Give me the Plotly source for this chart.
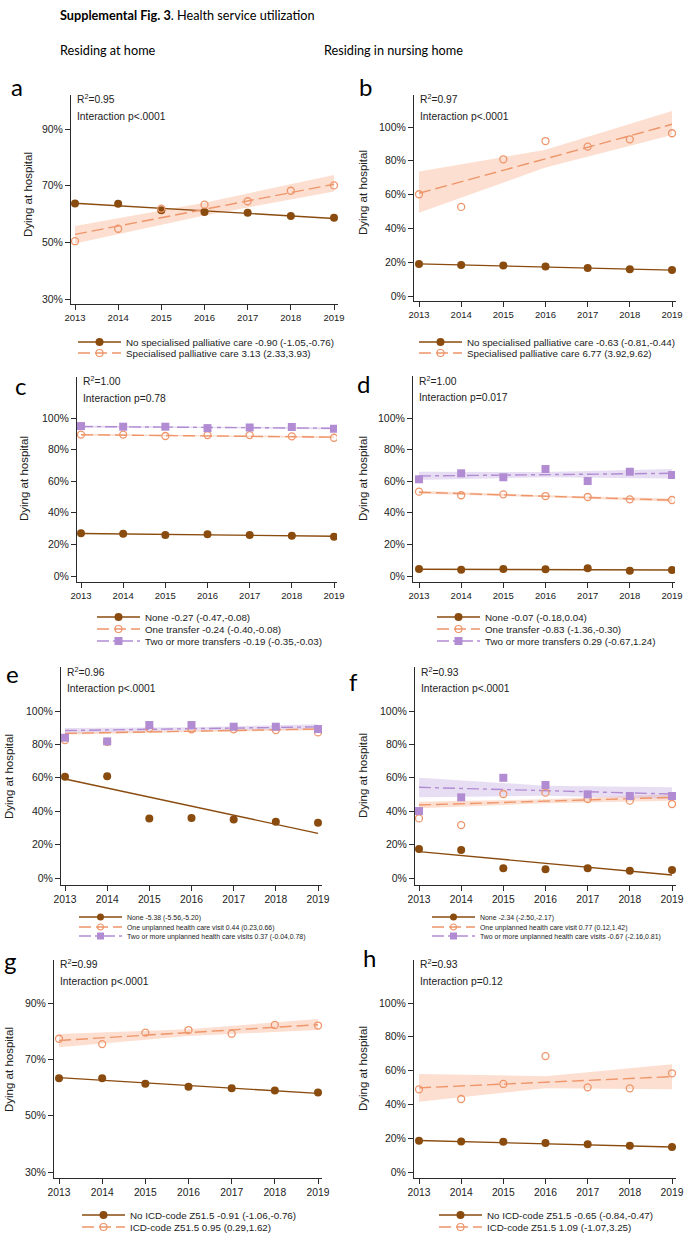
import plotly.graph_objects as go

W, H = 687, 1236
SANS = "Liberation Sans, Arial, sans-serif"
HEAD = "Lato, Open Sans, sans-serif"

years = [2013, 2014, 2015, 2016, 2017, 2018, 2019]
fit_years = [2013, 2019]
ci_years = [2013, 2016, 2019]

# ---- panel a: residing at home, specialised palliative care
a_none = [63.7, 63.6, 61.3, 60.7, 60.4, 59.3, 58.7]
a_none_fit = [63.8, 58.4]
a_spc = [50.4, 54.8, 61.9, 63.3, 64.5, 68.2, 70.1]
a_spc_fit = [52.8, 70.5]
a_spc_lo = [49.6, 59.5, 67.9]
a_spc_hi = [55.8, 64.0, 73.8]
a_labels = ["No specialised palliative care -0.90 (-1.05,-0.76)",
            "Specialised palliative care 3.13 (2.33,3.93)"]

# ---- panel b: nursing home, specialised palliative care
b_none = [18.9, 18.3, 18.1, 17.4, 16.6, 15.8, 15.4]
b_none_fit = [19.0, 15.3]
b_spc = [60.2, 52.7, 80.9, 91.7, 88.4, 92.7, 96.3]
b_spc_fit = [60.8, 101.6]
b_spc_lo = [49.3, 76.0, 95.3]
b_spc_hi = [73.6, 86.5, 109.5]
b_labels = ["No specialised palliative care -0.63 (-0.81,-0.44)",
            "Specialised palliative care 6.77 (3.92,9.62)"]

# ---- panel c: home, transfers
c_none = [27.0, 26.8, 26.0, 26.4, 26.0, 25.5, 24.9]
c_none_fit = [26.9, 25.2]
c_one = [89.5, 89.5, 88.6, 89.2, 89.2, 88.4, 87.5]
c_one_fit = [89.4, 87.9]
c_one_lo = [88.7, 88.3, 87.2]
c_one_hi = [90.1, 89.1, 88.6]
c_two = [94.9, 94.5, 94.5, 93.6, 94.0, 94.3, 93.2]
c_two_fit = [94.6, 93.5]
c_two_lo = [93.9, 93.6, 92.8]
c_two_hi = [95.3, 94.5, 94.2]
c_labels = ["None -0.27 (-0.47,-0.08)",
            "One transfer -0.24 (-0.40,-0.08)",
            "Two or more transfers -0.19 (-0.35,-0.03)"]

# ---- panel d: nursing home, transfers
d_none = [4.4, 4.0, 4.4, 4.2, 4.9, 3.4, 3.8]
d_none_fit = [4.3, 3.8]
d_one = [53.4, 51.1, 51.7, 50.6, 50.0, 48.5, 48.1]
d_one_fit = [53.0, 48.0]
d_one_lo = [52.0, 49.9, 47.0]
d_one_hi = [54.0, 51.1, 49.0]
d_two = [61.2, 65.0, 62.5, 67.7, 60.1, 66.0, 63.9]
d_two_fit = [63.3, 65.0]
d_two_lo = [60.8, 62.5, 61.7]
d_two_hi = [66.0, 65.8, 67.8]
d_labels = ["None -0.07 (-0.18,0.04)",
            "One transfer -0.83 (-1.36,-0.30)",
            "Two or more transfers 0.29 (-0.67,1.24)"]

# ---- panel e: home, unplanned health care visits
e_none = [60.6, 61.0, 35.7, 35.9, 35.1, 33.7, 33.1]
e_none_fit = [59.3, 26.7]
e_one = [82.6, 81.5, 89.6, 89.0, 89.0, 88.6, 87.2]
e_one_fit = [86.6, 89.2]
e_one_lo = [85.8, 87.4, 88.4]
e_one_hi = [87.4, 88.4, 90.0]
e_two = [84.0, 81.8, 91.6, 91.6, 90.6, 90.6, 89.2]
e_two_fit = [88.3, 90.5]
e_two_lo = [86.8, 88.5, 89.0]
e_two_hi = [89.8, 90.3, 92.0]
e_labels = ["None -5.38 (-5.56,-5.20)",
            "One unplanned health care visit 0.44 (0.23,0.66)",
            "Two or more unplanned health care visits 0.37 (-0.04,0.78)"]

# ---- panel f: nursing home, unplanned health care visits
f_none = [17.4, 16.8, 5.8, 5.2, 5.8, 4.4, 4.8]
f_none_fit = [15.8, 1.8]
f_one = [35.7, 31.7, 50.3, 51.1, 47.3, 46.3, 44.3]
f_one_fit = [43.7, 48.3]
f_one_lo = [41.7, 44.8, 46.3]
f_one_hi = [45.7, 47.2, 50.3]
f_two = [40.1, 48.3, 60.0, 55.7, 50.1, 49.1, 49.1]
f_two_fit = [54.3, 50.3]
f_two_lo = [48.3, 49.3, 47.3]
f_two_hi = [60.0, 55.3, 54.3]
f_labels = ["None -2.34 (-2.50,-2.17)",
            "One unplanned health care visit 0.77 (0.12,1.42)",
            "Two or more unplanned health care visits -0.67 (-2.16,0.81)"]

# ---- panel g: home, ICD-code Z51.5
g_none = [63.3, 63.3, 61.3, 60.3, 59.7, 58.9, 58.2]
g_none_fit = [63.5, 57.9]
g_icd = [77.3, 75.4, 79.5, 80.4, 79.1, 82.2, 82.0]
g_icd_fit = [76.7, 82.3]
g_icd_lo = [74.3, 78.3, 80.4]
g_icd_hi = [79.0, 80.7, 84.3]
g_labels = ["No ICD-code Z51.5 -0.91 (-1.06,-0.76)",
            "ICD-code Z51.5 0.95 (0.29,1.62)"]

# ---- panel h: nursing home, ICD-code Z51.5
h_none = [18.5, 18.1, 17.9, 17.1, 16.4, 15.6, 14.8]
h_none_fit = [18.6, 14.8]
h_icd = [48.9, 43.2, 52.1, 68.6, 50.1, 49.5, 58.4]
h_icd_fit = [49.8, 56.4]
h_icd_lo = [41.6, 49.5, 48.9]
h_icd_hi = [58.0, 56.7, 63.7]
h_labels = ["No ICD-code Z51.5 -0.65 (-0.84,-0.47)",
            "ICD-code Z51.5 1.09 (-1.07,3.25)"]

r2_values = ["0.95", "0.97", "1.00", "1.00", "0.96", "0.93", "0.99", "0.93"]
p_values = ["p<.0001", "p<.0001", "p=0.78", "p=0.017", "p<.0001", "p<.0001", "p<.0001", "p=0.12"]

# ---------------- styles ----------------
BROWN = "#8A4B0E"
ORANGE = "#EE956A"
PURPLE = "#B28CD3"
STY = {
    "none": dict(color=BROWN, dash="solid", symbol="circle", size=8),
    "one": dict(color=ORANGE, dash="12px,5px", symbol="circle-open", size=7,
                band="rgba(249,196,170,0.55)"),
    "two": dict(color=PURPLE, dash="12px,4px,4px,4px", symbol="square", size=8,
                band="rgba(205,182,228,0.45)"),
}


def S(kind, pts, fit, label, lo=None, hi=None):
    return dict(kind=kind, pts=pts, fit=fit, label=label, lo=lo, hi=hi)


panels = [
    dict(letter="a", box=(71, 338, 95, 304), x13=75, x19=334, yref=((30, 299), (90, 129)),
         yticks=[30, 50, 70, 90], xfont=9.5, ytitle=(28, 195), lpos=(17, 86),
         leg=(78, [342, 353], 9.8),
         series=[S("none", a_none, a_none_fit, a_labels[0]),
                 S("one", a_spc, a_spc_fit, a_labels[1], a_spc_lo, a_spc_hi)]),
    dict(letter="b", box=(414, 676, 95, 301), x13=419, x19=672, yref=((0, 296), (100, 127)),
         yticks=[0, 20, 40, 60, 80, 100], xfont=9.5, ytitle=(363, 193), lpos=(365, 86),
         leg=(419, [342, 353], 9.8),
         series=[S("none", b_none, b_none_fit, b_labels[0]),
                 S("one", b_spc, b_spc_fit, b_labels[1], b_spc_lo, b_spc_hi)]),
    dict(letter="c", box=(77, 337, 377, 582), x13=81, x19=334, yref=((0, 576), (100, 418)),
         yticks=[0, 20, 40, 60, 80, 100], xfont=9.5, ytitle=(24, 479), lpos=(20, 385),
         leg=(97, [617, 629, 641], 9.8),
         series=[S("none", c_none, c_none_fit, c_labels[0]),
                 S("one", c_one, c_one_fit, c_labels[1], c_one_lo, c_one_hi),
                 S("two", c_two, c_two_fit, c_labels[2], c_two_lo, c_two_hi)]),
    dict(letter="d", box=(413, 675, 376, 582), x13=419, x19=672, yref=((0, 576), (100, 418)),
         yticks=[0, 20, 40, 60, 80, 100], xfont=9.5, ytitle=(363, 479), lpos=(363, 383),
         leg=(437, [617, 629, 641], 9.8),
         series=[S("none", d_none, d_none_fit, d_labels[0]),
                 S("one", d_one, d_one_fit, d_labels[1], d_one_lo, d_one_hi),
                 S("two", d_two, d_two_fit, d_labels[2], d_two_lo, d_two_hi)]),
    dict(letter="e", box=(61, 322, 667, 885), x13=65, x19=318, yref=((0, 878), (100, 711)),
         yticks=[0, 20, 40, 60, 80, 100], xfont=10.3, ytitle=(9, 777), lpos=(12, 673),
         leg=(79, [917, 927, 936], 6.9),
         series=[S("none", e_none, e_none_fit, e_labels[0]),
                 S("one", e_one, e_one_fit, e_labels[1], e_one_lo, e_one_hi),
                 S("two", e_two, e_two_fit, e_labels[2], e_two_lo, e_two_hi)]),
    dict(letter="f", box=(415, 676, 667, 885), x13=419, x19=672, yref=((0, 878), (100, 711)),
         yticks=[0, 20, 40, 60, 80, 100], xfont=10.3, ytitle=(363, 776), lpos=(353, 681),
         leg=(432, [917, 927, 936], 6.9),
         series=[S("none", f_none, f_none_fit, f_labels[0]),
                 S("one", f_one, f_one_fit, f_labels[1], f_one_lo, f_one_hi),
                 S("two", f_two, f_two_fit, f_labels[2], f_two_lo, f_two_hi)]),
    dict(letter="g", box=(54, 322, 960, 1178), x13=59, x19=318, yref=((30, 1172), (90, 1003)),
         yticks=[30, 50, 70, 90], xfont=10.3, ytitle=(9, 1070), lpos=(10, 961),
         leg=(82, [1215, 1227], 9.8),
         series=[S("none", g_none, g_none_fit, g_labels[0]),
                 S("one", g_icd, g_icd_fit, g_labels[1], g_icd_lo, g_icd_hi)]),
    dict(letter="h", box=(414, 676, 960, 1178), x13=419, x19=672, yref=((0, 1172), (100, 1003)),
         yticks=[0, 20, 40, 60, 80, 100], xfont=10.3, ytitle=(363, 1069), lpos=(369, 958),
         leg=(439, [1215, 1227], 9.8),
         series=[S("none", h_none, h_none_fit, h_labels[0]),
                 S("one", h_icd, h_icd_fit, h_labels[1], h_icd_lo, h_icd_hi)]),
]


def px(x):
    return x / W


def py(y):
    return 1 - y / H


fig = go.Figure()
annotations = []
layout = {}
legend_count = 0

for i, p in enumerate(panels):
    n = "" if i == 0 else str(i + 1)
    xa, ya = "x" + n, "y" + n
    left, right, top, bottom = p["box"]
    k = 6.0 / (p["x19"] - p["x13"])
    xr = [2013 - (p["x13"] - left) * k, 2019 + (right - p["x19"]) * k]
    (v1, p1), (v2, p2) = p["yref"]
    ky = (v2 - v1) / (p1 - p2)
    yr = [v1 - (bottom - p1) * ky, v1 + (p1 - top) * ky]

    axis_common = dict(showline=True, linecolor="#2b2b2b", linewidth=1, ticks="outside",
                       ticklen=5, tickcolor="#2b2b2b", showgrid=False, zeroline=False,
                       fixedrange=True, automargin=False)
    layout["xaxis" + n] = dict(axis_common, domain=[px(left), px(right)], range=xr,
                               anchor=ya, tickmode="array", tickvals=years,
                               ticktext=[str(y) for y in years],
                               tickfont=dict(family=SANS, size=p["xfont"], color="#222"))
    layout["yaxis" + n] = dict(axis_common, domain=[py(bottom), py(top)], range=yr,
                               anchor=xa, tickmode="array", tickvals=p["yticks"],
                               ticktext=["%d%%" % v for v in p["yticks"]],
                               tickfont=dict(family=SANS, size=10.5, color="#222"))

    # confidence bands
    for s in p["series"]:
        st = STY[s["kind"]]
        if s["lo"] is not None:
            fig.add_trace(go.Scatter(x=ci_years + ci_years[::-1], y=s["hi"] + s["lo"][::-1],
                                     fill="toself", fillcolor=st["band"], mode="lines",
                                     line=dict(width=0), hoverinfo="skip", showlegend=False,
                                     xaxis=xa, yaxis=ya))
    # fitted lines
    for s in p["series"]:
        st = STY[s["kind"]]
        fig.add_trace(go.Scatter(x=fit_years, y=s["fit"], mode="lines",
                                 line=dict(color=st["color"], width=1.4, dash=st["dash"]),
                                 showlegend=False, xaxis=xa, yaxis=ya))
    # observed points
    for s in p["series"]:
        st = STY[s["kind"]]
        mk = dict(color=st["color"], size=st["size"], symbol=st["symbol"])
        if s["kind"] == "one":
            mk["line"] = dict(color=st["color"], width=1.3)
        fig.add_trace(go.Scatter(x=years, y=s["pts"], mode="markers", marker=mk,
                                 showlegend=False, xaxis=xa, yaxis=ya))

    # legend entries, one legend per row
    lx, rows, lfs = p["leg"]
    for s, ry in zip(p["series"], rows):
        st = STY[s["kind"]]
        legend_count += 1
        lname = "legend" if legend_count == 1 else "legend%d" % legend_count
        mk = dict(color=st["color"], size=st["size"] - (1 if lfs < 9 else 0), symbol=st["symbol"])
        if s["kind"] == "one":
            mk["line"] = dict(color=st["color"], width=1.2)
        fig.add_trace(go.Scatter(x=[None], y=[None], mode="lines+markers", name=s["label"],
                                 line=dict(color=st["color"], width=1.4, dash=st["dash"]),
                                 marker=mk, legend=lname, xaxis=xa, yaxis=ya))
        layout[lname] = dict(x=px(lx - 5), y=py(ry), xanchor="left", yanchor="middle",
                             bgcolor="rgba(0,0,0,0)", borderwidth=0, itemwidth=43,
                             font=dict(family=SANS, size=lfs, color="#222"),
                             itemclick=False, itemdoubleclick=False)

    # texts
    annotations.append(dict(x=px(left + 4), y=py(top + 4), xref="paper", yref="paper",
                            text="R<sup>2</sup>=" + r2_values[i], showarrow=False,
                            xanchor="left", yanchor="middle",
                            font=dict(family=SANS, size=10.3, color="#222")))
    annotations.append(dict(x=px(left + 4), y=py(top + 21), xref="paper", yref="paper",
                            text="Interaction " + p_values[i], showarrow=False,
                            xanchor="left", yanchor="middle",
                            font=dict(family=SANS, size=10.3, color="#222")))
    tx, ty = p["ytitle"]
    annotations.append(dict(x=px(tx), y=py(ty), xref="paper", yref="paper",
                            text="Dying at hospital", textangle=-90, showarrow=False,
                            xanchor="center", yanchor="middle",
                            font=dict(family=SANS, size=11.5, color="#222")))
    lxp, lyp = p["lpos"]
    annotations.append(dict(x=px(lxp), y=py(lyp), xref="paper", yref="paper",
                            text=p["letter"], showarrow=False, xanchor="center", yanchor="middle",
                            font=dict(family=HEAD, size=24, color="#000")))

annotations.append(dict(x=px(58), y=py(15), xref="paper", yref="paper",
                        text="<b>Supplemental Fig. 3</b>. Health service utilization",
                        showarrow=False, xanchor="left", yanchor="middle",
                        font=dict(family=HEAD, size=12.7, color="#000")))
annotations.append(dict(x=px(58), y=py(50), xref="paper", yref="paper",
                        text="Residing at home", showarrow=False, xanchor="left", yanchor="middle",
                        font=dict(family=HEAD, size=12.7, color="#000")))
annotations.append(dict(x=px(322), y=py(50), xref="paper", yref="paper",
                        text="Residing in nursing home", showarrow=False, xanchor="left",
                        yanchor="middle", font=dict(family=HEAD, size=12.7, color="#000")))

fig.update_layout(width=W, height=H,
                  margin=dict(l=0, r=0, t=0, b=0, autoexpand=False),
                  paper_bgcolor="white", plot_bgcolor="white",
                  annotations=annotations, **layout)

fig.write_html("out.html", config={"displayModeBar": False},
               post_script="document.body.style.margin='0';document.body.style.overflow='hidden';")
